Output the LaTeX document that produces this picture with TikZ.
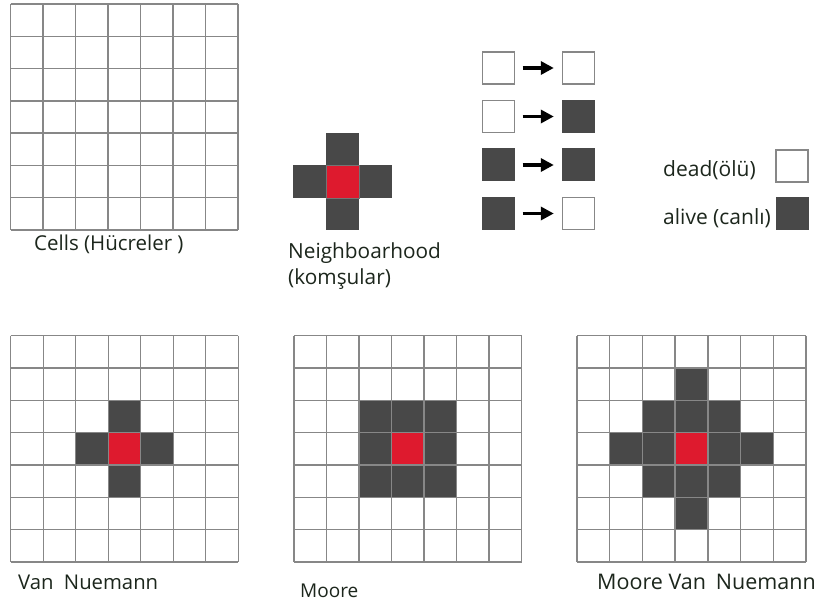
\documentclass[tikz,border=0pt]{standalone}
\usepackage{fontspec}
\setmainfont{Open Sans}
\usetikzlibrary{arrows.meta}
\definecolor{txt}{RGB}{28,38,28}
\definecolor{gridc}{RGB}{135,135,135}
\definecolor{alivec}{RGB}{72,72,72}
\definecolor{redc}{RGB}{222,26,46}
\newcommand{\cagrid}[4]{%
  \foreach \i in {0,...,7}{%
    \draw[gridline] ({#1+\i*#3},{#2}) -- ({#1+\i*#3},{#2+7*#4});
    \draw[gridline] ({#1},{#2+\i*#4}) -- ({#1+7*#3},{#2+\i*#4});
  }}
\newcommand{\cacell}[7]{% color x0 y0 cw ch col row
  \fill[#1] ({#2+#6*#4},{#3+#7*#5}) rectangle ++(#4,#5);}
\newcommand{\fsz}[1]{\fontsize{#1}{#1}\selectfont}
\begin{document}
\begin{tikzpicture}[x=1pt,y=-1pt,
  gridline/.style={draw=gridc,line width=1.4pt},
  lbl/.style={anchor=base west,inner sep=0pt,text=txt},
  deadsq/.style={draw=gridc,line width=1.4pt,fill=white,minimum size=32pt,inner sep=0pt},
  alivesq/.style={fill=alivec,minimum size=33pt,inner sep=0pt},
  trarrow/.style={line width=3.8pt,-{Triangle[length=13pt,width=13pt]},shorten <=7.5pt,shorten >=8pt}]
\fill[white] (0,0) rectangle (823,604);
\useasboundingbox (0,0) rectangle (823,604);

% --- Cells grid
\cagrid{10.5}{4}{32.5}{32.3}
\node[lbl,font=\fsz{20.5}] (cellslbl) at (34,251) {Cells (Hücreler )};

% --- Neighbourhood cross
\foreach \c/\r in {1/0,0/1,2/1,1/2}{\cacell{alivec}{293}{133}{33}{32.5}{\c}{\r}}
\cacell{redc}{293}{133}{33}{32.5}{1}{1}
\draw[draw=gridc!70!alivec,line width=0.6pt] (326,165.5) rectangle (359,198);
\node[lbl,font=\fsz{20.8}] (nbl1) at (288,259) {Neighboarhood};
\node[lbl,font=\fsz{20.8}] (nbl2) at (288,285) {(komşular)};

% --- transition rules
\node[deadsq]  (t1a) at (498.5,68) {};
\node[deadsq]  (t1b) at (578.5,68) {};
\node[deadsq]  (t2a) at (498.5,116.5) {};
\node[alivesq] (t2b) at (578.5,116.5) {};
\node[alivesq] (t3a) at (498.5,165) {};
\node[alivesq] (t3b) at (578.5,165) {};
\node[alivesq] (t4a) at (498.5,213.5) {};
\node[deadsq]  (t4b) at (578.5,213.5) {};
\draw[trarrow] (t1a) -- (t1b);
\draw[trarrow] (t2a) -- (t2b);
\draw[trarrow] (t3a) -- (t3b);
\draw[trarrow] (t4a) -- (t4b);

% --- legend
\node[lbl,font=\fsz{21}] (deadlbl) at (663,177) {dead(ölü)};
\node[lbl,font=\fsz{21}] (alivelbl) at (663,225) {alive (canlı)};
\node[deadsq]  (deadkey) at (792,166) {};
\node[alivesq] (alivekey) at (792,214) {};

% --- Von Neumann grid
\foreach \c/\r in {3/2,2/3,4/3,3/4}{\cacell{alivec}{10.7}{335.7}{32.5}{32.3}{\c}{\r}}
\cacell{redc}{10.7}{335.7}{32.5}{32.3}{3}{3}
\cagrid{10.7}{335.7}{32.5}{32.3}
\node[lbl,font=\fsz{20.3}] (vnlbl) at (18,589) {Van\hspace{0.25em} Nuemann};

% --- Moore grid
\foreach \c in {2,3,4}{\foreach \r in {2,3,4}{\cacell{alivec}{294}{335.7}{32.5}{32.3}{\c}{\r}}}
\cacell{redc}{294}{335.7}{32.5}{32.3}{3}{3}
\cagrid{294}{335.7}{32.5}{32.3}
\node[lbl,font=\fsz{19}] (moorelbl) at (300,597) {Moore};

% --- Moore + Von Neumann grid
\foreach \c in {2,3,4}{\foreach \r in {2,3,4}{\cacell{alivec}{577}{335.7}{32.7}{32.3}{\c}{\r}}}
\foreach \c/\r in {3/1,1/3,5/3,3/5}{\cacell{alivec}{577}{335.7}{32.7}{32.3}{\c}{\r}}
\cacell{redc}{577}{335.7}{32.7}{32.3}{3}{3}
\cagrid{577}{335.7}{32.7}{32.3}
\node[lbl,font=\fsz{21.5}] (mvnlbl) at (597,589) {Moore Van\hspace{0.2em} Nuemann};
\end{tikzpicture}
\end{document}
